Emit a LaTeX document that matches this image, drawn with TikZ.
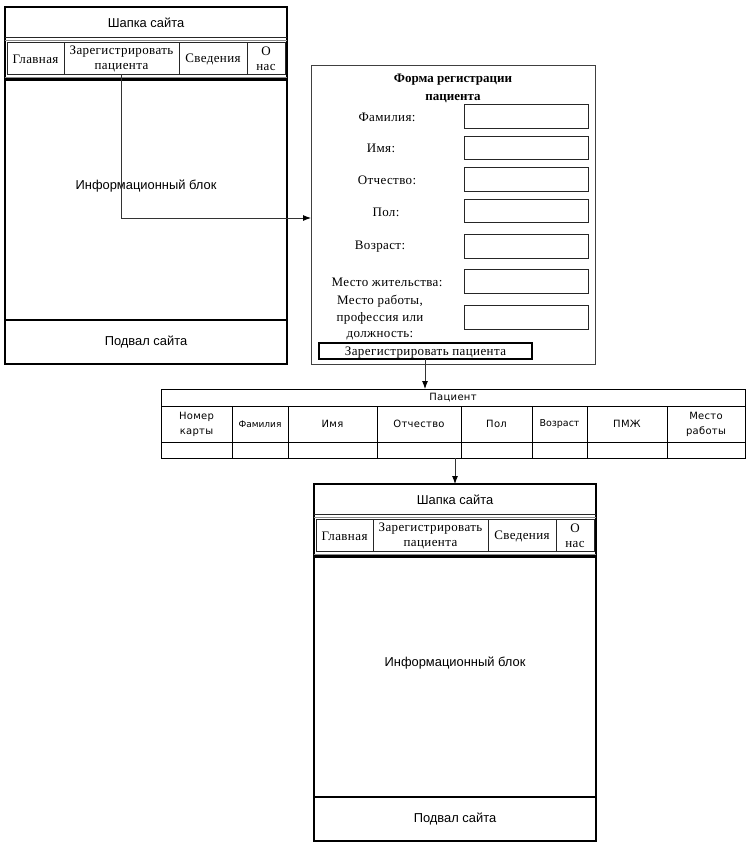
\documentclass[tikz,border=0pt]{standalone}
\usepackage{fontspec}
\setmainfont{Liberation Serif}
\setsansfont{Liberation Sans}
\newfontfamily\tabfont[LetterSpace=3]{DejaVu Sans}
\newfontfamily\tabfontn{DejaVu Sans}
\newfontfamily\srf[LetterSpace=3]{Liberation Serif}
\usetikzlibrary{fit,arrows.meta}
\newcommand\rbox[6]{\node[fit={(#2,#3) (#4,#5)}, inner sep=0pt, outer sep=0pt, #6] (#1) {};}
\tikzset{
  pageframe/.style={draw=black, line width=2.6pt},
  thinline/.style={draw=black!85, line width=0.9pt},
  grayline/.style={draw=black!45, line width=0.9pt},
  thickline/.style={draw=black, line width=2.4pt},
  menucell/.style={draw=black!85, line width=0.9pt},
  sanslbl/.style={font=\sffamily\fontsize{12.9}{15}\selectfont},
  seriflbl/.style={font=\srf\fontsize{13}{15}\selectfont, align=center},
  formlbl/.style={font=\srf\fontsize{13}{16.5}\selectfont, align=center},
  inbox/.style={draw=black!85, line width=1pt},
  tabcell/.style={draw=black, line width=0.8pt},
  tablbl/.style={font=\tabfont\fontsize{10}{15}\selectfont, align=center},
  arr/.style={draw=black!80, line width=0.9pt, -{Latex[length=8pt,width=6pt,color=black]}},
}
\newcommand\sitepage[1]{%
  \rbox{#1frame}{5}{7}{287}{364}{pageframe}
  \node[sanslbl] (#1head) at (146,22.5) {Шапка сайта};
  \draw[thinline] (5,37) -- (287,37);
  \draw[grayline] (5,40) -- (287,40);
  \rbox{#1m1}{7}{42}{64}{74}{menucell}
  \rbox{#1m2}{64}{42}{179}{74}{menucell}
  \rbox{#1m3}{179}{42}{247}{74}{menucell}
  \rbox{#1m4}{247}{42}{285}{74}{menucell}
  \node[seriflbl] at ([yshift=-1pt]#1m1.center) {Главная};
  \node[seriflbl] at ([yshift=-1pt]#1m2.center) {Зарегистрировать\\пациента};
  \node[seriflbl] at ([yshift=-1pt]#1m3.center) {Сведения};
  \node[seriflbl] at ([yshift=-1pt]#1m4.center) {О\\нас};
  \draw[grayline] (5,77) -- (287,77);
  \draw[thickline] (5,79.5) -- (287,79.5);
  \node[sanslbl] (#1info) at (146,186) {Информационный блок};
  \draw[thickline] (5,320) -- (287,320);
  \node[sanslbl] (#1foot) at (146,342) {Подвал сайта};
}
\begin{document}
\begin{tikzpicture}[x=1pt,y=-1pt]
\useasboundingbox (0,0) rectangle (751,849);
% first page
\sitepage{a}
% second page
\begin{scope}[shift={(309,477)}]
\sitepage{b}
\end{scope}
% form
\rbox{form}{311}{65}{595}{364}{draw=black!75, line width=1pt}
\node[font=\bfseries\fontsize{13}{18}\selectfont, align=center] (ftitle) at (453,88) {Форма регистрации\\пациента};
\node[formlbl] (l1) at (387,117.5) {Фамилия:};
\node[formlbl] (l2) at (381,148.5) {Имя:};
\node[formlbl] (l3) at (387,180.5) {Отчество:};
\node[formlbl] (l4) at (386,212.5) {Пол:};
\node[formlbl] (l5) at (380,246.5) {Возраст:};
\node[formlbl] (l6) at (387,282.5) {Место жительства:};
\node[formlbl] (l7) at (380,318) {Место работы,\\профессия или\\должность:};
\rbox{i1}{464}{104}{588}{128}{inbox}
\rbox{i2}{464}{136}{588}{159}{inbox}
\rbox{i3}{464}{167}{588}{191}{inbox}
\rbox{i4}{464}{199}{588}{222}{inbox}
\rbox{i5}{464}{234}{588}{258}{inbox}
\rbox{i6}{464}{269}{588}{293}{inbox}
\rbox{i7}{464}{305}{588}{329}{inbox}
\rbox{btn}{319}{343}{532}{359}{draw=black, line width=2.2pt}
\node[formlbl] at ([yshift=-2pt]btn.center) {Зарегистрировать пациента};
% table
\rbox{ttitle}{161}{389}{745}{406}{tabcell}
\node[tablbl] at (ttitle.center) {Пациент};
\rbox{h1}{161}{406}{232}{442}{tabcell}
\rbox{h2}{232}{406}{288}{442}{tabcell}
\rbox{h3}{288}{406}{377}{442}{tabcell}
\rbox{h4}{377}{406}{461}{442}{tabcell}
\rbox{h5}{461}{406}{532}{442}{tabcell}
\rbox{h6}{532}{406}{587}{442}{tabcell}
\rbox{h7}{587}{406}{667}{442}{tabcell}
\rbox{h8}{667}{406}{745}{442}{tabcell}
\rbox{d1}{161}{442}{232}{458}{tabcell}
\rbox{d2}{232}{442}{288}{458}{tabcell}
\rbox{d3}{288}{442}{377}{458}{tabcell}
\rbox{d4}{377}{442}{461}{458}{tabcell}
\rbox{d5}{461}{442}{532}{458}{tabcell}
\rbox{d6}{532}{442}{587}{458}{tabcell}
\rbox{d7}{587}{442}{667}{458}{tabcell}
\rbox{d8}{667}{442}{745}{458}{tabcell}
\node[tablbl] at (h1.center) {Номер\\карты};
\node[tablbl, font=\tabfontn\fontsize{9}{12}\selectfont] at (h2.center) {Фамилия};
\node[tablbl] at (h3.center) {Имя};
\node[tablbl] at (h4.center) {Отчество};
\node[tablbl] at (h5.center) {Пол};
\node[tablbl, font=\tabfontn\fontsize{9.5}{12}\selectfont] at (h6.center) {Возраст};
\node[tablbl] at (h7.center) {ПМЖ};
\node[tablbl] at (h8.center) {Место\\работы};
% connectors
\coordinate (fin) at (311,218);
\draw[arr] (am2.south) |- (fin);
\coordinate (tin) at (425,389);
\draw[arr] (btn.south -| tin) -- (tin);
\coordinate (tout) at (455,458);
\draw[arr] (tout) -- (bframe.north);
\end{tikzpicture}
\end{document}
